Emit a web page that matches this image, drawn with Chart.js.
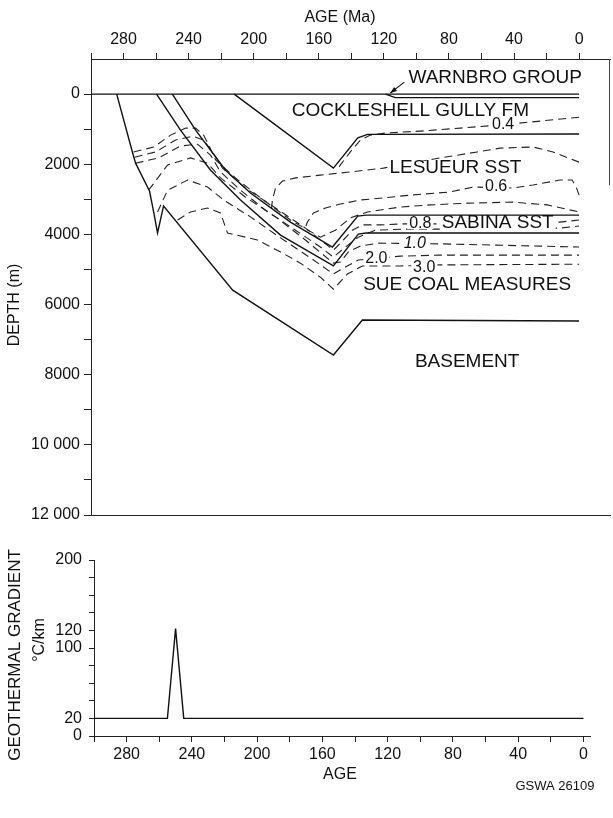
<!DOCTYPE html>
<html>
<head>
<meta charset="utf-8">
<script src="https://cdn.jsdelivr.net/npm/chart.js@4.4.0/dist/chart.umd.min.js"></script>
<style>
  body { margin: 0; background: #fff; }
  #wrap { position: relative; width: 613px; height: 818px; }
  canvas { position: absolute; left: 0; }
  #burial { top: 0; }
  #gradient { top: 530px; }
</style>
</head>
<body>
<div id="wrap">
  <canvas id="burial" width="613" height="530"></canvas>
  <canvas id="gradient" width="613" height="288"></canvas>
</div>
<script>
const FONT = '"Liberation Sans", Arial, Helvetica, sans-serif';

// axis ticks
const ageTicks = [300, 280, 260, 240, 220, 200, 180, 160, 140, 120, 100, 80, 60, 40, 20, 0];
const depthTicks = [0, 1000, 2000, 3000, 4000, 5000, 6000, 7000, 8000, 9000, 10000, 11000, 12000];
const gradientTicks = [0, 20, 40, 60, 80, 100, 120, 140, 160, 180, 200];
const gradientLabels = [0, 20, 100, 120, 200];

// horizons, [age Ma, depth m]
const surface = [[300, 0], [0, 0]];
const warnbroBase = [[119, 0], [113, 100], [0, 100]];
const cockleshellBase = [[212, 0], [151, 2110], [136, 1250], [130, 1150], [0, 1140]];
const sabinaTop = [[250, 0], [235.7, 1030], [217.3, 2170], [202, 2820], [177.4, 3650], [151.6, 4360], [136, 3480], [131, 3450], [0, 3450]];
const sueTop = [[259.7, 0], [245, 1030], [226.5, 2170], [208.1, 3020], [183.5, 4020], [151, 4900], [135.7, 3990], [131, 3960], [0, 3960]];
const basementTop = [[284.2, 0], [274.4, 1680], [272.6, 1970], [264, 2770], [261.5, 3360], [259.1, 3960], [255.4, 3190], [212.9, 5590], [151, 7440], [133.2, 6440], [0, 6470]];

// vitrinite reflectance isolines, [age Ma, depth m]
const ro04 = [[0, 660], [24, 770], [48.5, 880], [73, 970], [97.6, 1055], [119, 1110], [128.3, 1170], [134.4, 1310], [140.6, 1650], [146.7, 2020], [149.2, 2195]];
const ro05 = [[0, 1940], [16, 1650], [28.2, 1510], [48.5, 1540], [62.6, 1650], [85.3, 1820], [103.7, 1970], [120.3, 2110], [140.6, 2220], [159, 2310], [174.3, 2390], [182.3, 2480], [186.6, 2680], [188.5, 3020], [189, 3250]];
const ro06 = [[0, 2880], [1.8, 2650], [4.3, 2450], [11.7, 2450], [28.2, 2590], [40.5, 2680], [65.1, 2650], [79.2, 2790], [103.7, 2880], [120.3, 2960], [134.4, 3020], [146.7, 3135], [155.9, 3250], [163.3, 3390], [167, 3650], [168.8, 3880]];
const ro07 = [[273.8, 1650], [261.5, 1510], [251.1, 1170], [241.8, 970], [235.7, 970], [230.8, 1170], [227.7, 1450], [223.4, 1880], [211.2, 2390], [195.8, 2960], [177.4, 3590], [159, 4080], [149.8, 3880], [140.6, 3530], [130.1, 3360], [109.9, 3220], [91.5, 3160], [68.8, 3110], [40.5, 3080], [19.6, 3160], [0, 3360]];
const ro08 = [[273.2, 1800], [260.3, 1650], [248, 1310], [237.6, 1200], [230.8, 1310], [225.3, 1650], [219.2, 2110], [205, 2680], [186.6, 3250], [168.2, 3820], [151, 4450], [144.9, 4160], [139.3, 3880], [133.2, 3730], [122.2, 3730], [108, 3700], [87.2, 3700], [11.7, 3650], [0, 3590]];
const ro09 = [[272.6, 1970], [258.4, 1820], [245, 1480], [234.5, 1430], [226.5, 1740], [220.4, 2220], [208.1, 2740], [192.7, 3310], [174.3, 3880], [159, 4360], [151, 4650], [143.6, 4360], [135.7, 4080], [125.2, 3880], [108, 3850], [87.2, 3850], [11.7, 3820], [0, 3760]];
const ro10 = [[264.6, 2740], [252.9, 2020], [238.8, 1820], [228.4, 1970], [220.4, 2390], [205, 2940], [186.6, 3500], [168.2, 4160], [151, 4820], [146.7, 4790], [141.8, 4500], [134.4, 4330], [123.4, 4250], [85.3, 4270], [0, 4360]];
const ro20 = [[259.1, 3360], [252.9, 2740], [240.6, 2450], [228.4, 2650], [218.5, 3020], [202, 3500], [183.5, 4100], [165.1, 4670], [151, 5130], [143.6, 4930], [135.7, 4730], [109.9, 4620], [85.3, 4590], [0, 4590]];
const ro30 = [[246.8, 3590], [238.8, 3360], [228.4, 3250], [220.4, 3390], [216.1, 3960], [197.7, 4160], [183.5, 4500], [171.3, 4820], [159, 5220], [151, 5560], [142.4, 5130], [133.2, 4900], [109.9, 4900], [85.3, 4870], [0, 4850]];

// geothermal gradient history
const gradientAges = [300, 255, 250, 245, 0];
const gradientValues = [20, 20, 122, 20, 20];

// text on the section: [text, age, depth]
const unitNames = [
  ['WARNBRO GROUP', 51.6, -456],
  ['COCKLESHELL GULLY FM', 103.7, 490],
  ['LESUEUR SST', 76, 2110],
  ['SABINA SST', 50, 3680],
  ['SUE COAL MEASURES', 68.8, 5444],
  ['BASEMENT', 68.8, 7640]
];
const isolineNames = [
  ['0.4', 46.7, 870],
  ['0.6', 51, 2650],
  ['0.8', 97.6, 3680],
  ['1.0', 101, 4247],
  ['2.0', 124.6, 4700],
  ['3.0', 95.2, 4960]
];

const toXY = pts => pts.map(([x, y]) => ({ x, y }));
const solid = [surface, warnbroBase, cockleshellBase, sabinaTop, sueTop, basementTop];
const dashed = [ro04, ro05, ro06, ro07, ro08, ro09, ro10, ro20, ro30];

const datasets = [
  ...solid.map(p => ({ data: toXY(p), showLine: true, borderColor: '#111', borderWidth: 1.4, pointRadius: 0, order: 1 })),
  ...dashed.map(p => ({ data: toXY(p), showLine: true, borderColor: '#222', borderWidth: 1.1, borderDash: [8, 5], pointRadius: 0, order: 2 }))
];
const firstDashed = solid.length;

function drawLabel(ctx, text, px, py, size, italic) {
  ctx.font = (italic ? 'italic ' : '') + size + 'px ' + FONT;
  const w = ctx.measureText(text).width;
  ctx.fillStyle = '#fff';
  ctx.fillRect(px - w / 2 - 2, py - size * 0.38, w + 4, size * 0.76);
  ctx.fillStyle = '#111';
  ctx.textAlign = 'center';
  ctx.textBaseline = 'middle';
  ctx.fillText(text, px, py);
}

const burialText = {
  id: 'burialText',
  afterDatasetDraw(chart, args) {
    if (args.index !== firstDashed) return;
    const { ctx, scales: { x, y } } = chart;
    ctx.save();
    unitNames.forEach(([t, a, d]) => drawLabel(ctx, t, x.getPixelForValue(a), y.getPixelForValue(d), 19, false));
    isolineNames.forEach(([t, a, d]) => drawLabel(ctx, t, x.getPixelForValue(a), y.getPixelForValue(d), 16, t === '1.0'));
    ctx.restore();
  },
  afterDraw(chart) {
    const { ctx, chartArea, scales: { x, y } } = chart;
    ctx.save();
    // partial right frame
    ctx.strokeStyle = '#444';
    ctx.lineWidth = 1;
    ctx.beginPath();
    ctx.moveTo(chartArea.right - 0.5, chartArea.top);
    ctx.lineTo(chartArea.right - 0.5, y.getPixelForValue(2600));
    ctx.stroke();
    // arrow to Warnbro Group
    const x0 = x.getPixelForValue(107.4), y0 = y.getPixelForValue(-340);
    const x1 = x.getPixelForValue(116), y1 = y.getPixelForValue(-30);
    ctx.strokeStyle = '#111';
    ctx.lineWidth = 1.1;
    ctx.beginPath(); ctx.moveTo(x0, y0); ctx.lineTo(x1, y1); ctx.stroke();
    const ang = Math.atan2(y1 - y0, x1 - x0);
    ctx.fillStyle = '#111';
    ctx.beginPath();
    ctx.moveTo(x1, y1);
    ctx.lineTo(x1 - 7 * Math.cos(ang - 0.35), y1 - 7 * Math.sin(ang - 0.35));
    ctx.lineTo(x1 - 7 * Math.cos(ang + 0.35), y1 - 7 * Math.sin(ang + 0.35));
    ctx.closePath(); ctx.fill();
    // axis titles
    ctx.fillStyle = '#111';
    ctx.font = '16px ' + FONT;
    ctx.textAlign = 'center';
    ctx.textBaseline = 'middle';
    ctx.fillText('AGE (Ma)', 340, 18);
    ctx.translate(15, 305);
    ctx.rotate(-Math.PI / 2);
    ctx.fillText('DEPTH (m)', 0, 0);
    ctx.restore();
  }
};

const gradientText = {
  id: 'gradientText',
  afterDraw(chart) {
    const { ctx } = chart;
    ctx.save();
    ctx.fillStyle = '#111';
    ctx.textAlign = 'center';
    ctx.textBaseline = 'middle';
    ctx.font = '16px ' + FONT;
    ctx.fillText('AGE', 340, 245);
    ctx.font = '13px ' + FONT;
    ctx.fillText('GSWA 26109', 555, 256);
    ctx.save();
    ctx.translate(15, 125);
    ctx.rotate(-Math.PI / 2);
    ctx.font = '17px ' + FONT;
    ctx.fillText('GEOTHERMAL GRADIENT', 0, 0);
    ctx.restore();
    ctx.translate(40, 110);
    ctx.rotate(-Math.PI / 2);
    ctx.font = '16px ' + FONT;
    ctx.fillText('\u00B0C/km', 0, 0);
    ctx.restore();
  }
};

const tickFont = { family: FONT, size: 16 };
const axisGrid = { drawOnChartArea: false, drawTicks: true, tickLength: 6, color: '#222', lineWidth: 1 };
const axisBorder = { display: true, color: '#222', width: 1 };
const spaced = v => (v >= 10000 ? String(v).replace(/(\d+)(\d{3})$/, '$1 $2') : String(v));

new Chart(document.getElementById('burial'), {
  type: 'scatter',
  data: { datasets },
  options: {
    responsive: false,
    animation: false,
    devicePixelRatio: 1,
    layout: { padding: { left: 0, right: 3, top: 0, bottom: 15 } },
    plugins: { legend: { display: false }, tooltip: { enabled: false } },
    elements: { line: { tension: 0 } },
    scales: {
      x: {
        type: 'linear', position: 'top', reverse: true, min: -19, max: 300,
        afterBuildTicks: s => { s.ticks = ageTicks.map(v => ({ value: v })); },
        afterFit: s => { s.height = 59; },
        ticks: { autoSkip: false, maxRotation: 0, padding: 4, color: '#111', font: tickFont, callback: v => (v % 40 === 0 ? String(v) : '') },
        grid: axisGrid,
        border: axisBorder
      },
      x2: {
        type: 'linear', position: 'bottom', reverse: true, min: -19, max: 300,
        afterFit: s => { s.height = 0; },
        ticks: { display: false },
        grid: { display: false },
        border: axisBorder
      },
      y: {
        type: 'linear', position: 'left', reverse: true, min: -1000, max: 12000,
        afterBuildTicks: s => { s.ticks = depthTicks.map(v => ({ value: v })); },
        afterFit: s => { s.width = 91; },
        ticks: { autoSkip: false, padding: 4, color: '#111', font: tickFont, callback: v => (v % 2000 === 0 ? spaced(v) : '') },
        grid: { ...axisGrid, tickLength: 7 },
        border: axisBorder
      }
    }
  },
  plugins: [burialText]
});

new Chart(document.getElementById('gradient'), {
  type: 'scatter',
  data: {
    datasets: [{
      data: gradientAges.map((a, i) => ({ x: a, y: gradientValues[i] })),
      showLine: true, borderColor: '#111', borderWidth: 1.4, pointRadius: 0
    }]
  },
  options: {
    responsive: false,
    animation: false,
    devicePixelRatio: 1,
    layout: { padding: { left: 0, right: 23, top: 30, bottom: 0 } },
    plugins: { legend: { display: false }, tooltip: { enabled: false } },
    elements: { line: { tension: 0 } },
    scales: {
      x: {
        type: 'linear', position: 'bottom', reverse: true, min: -4, max: 300,
        afterBuildTicks: s => { s.ticks = ageTicks.map(v => ({ value: v })); },
        afterFit: s => { s.height = 82; },
        ticks: { autoSkip: false, maxRotation: 0, padding: 3, color: '#111', font: tickFont, callback: v => (v % 40 === 0 ? String(v) : '') },
        grid: axisGrid,
        border: axisBorder
      },
      y: {
        type: 'linear', position: 'left', min: 0, max: 200,
        afterBuildTicks: s => { s.ticks = gradientTicks.map(v => ({ value: v })); },
        afterFit: s => { s.width = 94; },
        ticks: { autoSkip: false, padding: 7, color: '#111', font: tickFont, callback: v => (gradientLabels.includes(v) ? String(v) : '') },
        grid: { ...axisGrid, tickLength: 5 },
        border: axisBorder
      }
    }
  },
  plugins: [gradientText]
});
</script>
</body>
</html>
